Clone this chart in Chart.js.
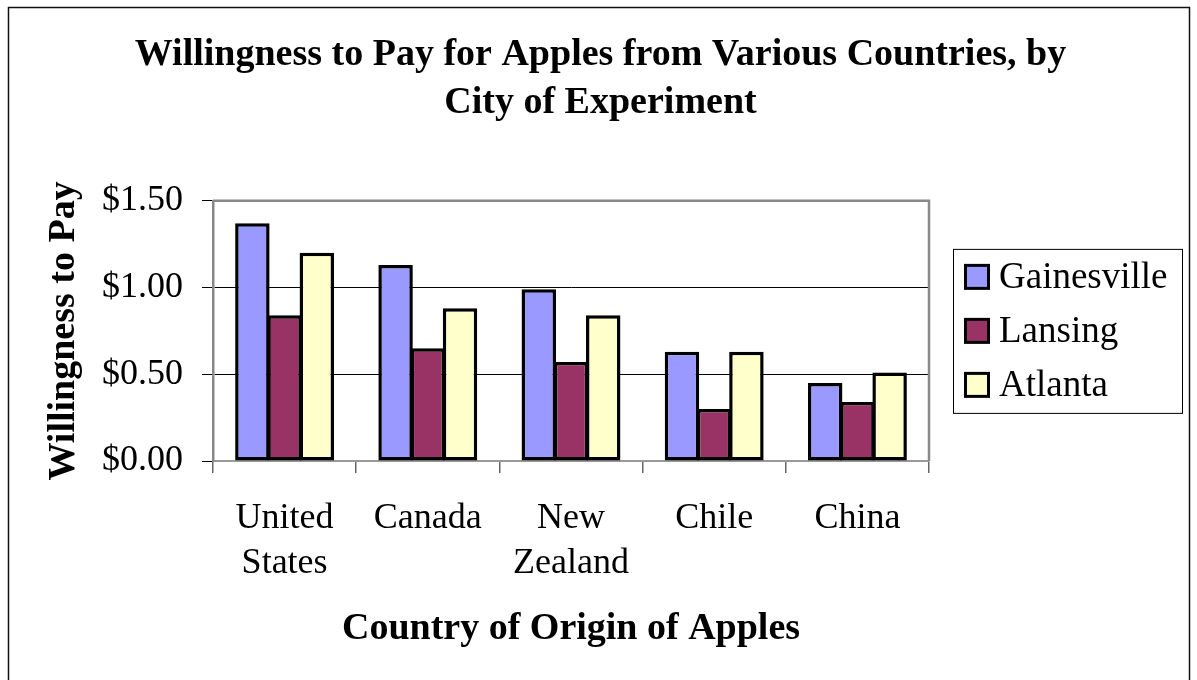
<!DOCTYPE html>
<html>
<head>
<meta charset="utf-8">
<script src="https://cdn.jsdelivr.net/npm/chart.js@4"></script>
<style>
  html, body { margin: 0; padding: 0; background: #fff; }
  #wrap { width: 1197px; height: 680px; }
</style>
</head>
<body>
<div id="wrap"><canvas id="wtp-chart"></canvas></div>
<script>
// Chart data
const countries = [['United', 'States'], 'Canada', ['New', 'Zealand'], 'Chile', 'China'];
const gainesville = [1.37, 1.13, 0.99, 0.63, 0.45];
const lansing = [0.84, 0.65, 0.57, 0.30, 0.34];
const atlanta = [1.20, 0.88, 0.84, 0.63, 0.51];
const yTicks = [0, 0.5, 1.0, 1.5];

const SERIF = "'Liberation Serif', 'Times New Roman', serif";

// White background, outer frame and grey plot border
const framePlugin = {
    id: 'frame',
    beforeDraw(chart) {
        const ctx = chart.ctx;
        ctx.save();
        ctx.fillStyle = '#fff';
        ctx.fillRect(0, 0, chart.width, chart.height);
        ctx.strokeStyle = '#111';
        ctx.lineWidth = 1.5;
        ctx.strokeRect(8.5, 7.5, 1181, 700);
        ctx.restore();
    },
    afterDatasetsDraw(chart) {
        const {ctx, chartArea: a} = chart;
        ctx.save();
        ctx.strokeStyle = '#888';
        ctx.lineWidth = 2.5;
        ctx.beginPath();
        ctx.moveTo(a.left, a.top);
        ctx.lineTo(a.right, a.top);
        ctx.lineTo(a.right, a.bottom);
        ctx.stroke();
        ctx.restore();
    }
};

// Boxed legend to the right of the plot, like the original
const boxLegendPlugin = {
    id: 'boxLegend',
    afterDraw(chart) {
        const {ctx, chartArea: a} = chart;
        const cy = (a.top + a.bottom) / 2;
        const lx = a.right + 24;
        const ly = cy - 82;
        ctx.save();
        ctx.strokeStyle = '#000';
        ctx.lineWidth = 1;
        ctx.strokeRect(lx + 0.5, ly + 0.5, 229, 164);
        ctx.font = '37px ' + SERIF;
        ctx.textBaseline = 'middle';
        chart.data.datasets.forEach((ds, i) => {
            const y = cy + (i - 1) * 54;
            ctx.fillStyle = ds.backgroundColor;
            ctx.fillRect(lx + 12, y - 12, 24, 24);
            ctx.lineWidth = 3;
            ctx.strokeStyle = '#000';
            ctx.strokeRect(lx + 12.5, y - 11.5, 23, 23);
            ctx.fillStyle = '#000';
            ctx.fillText(ds.label, lx + 46, y + 1);
        });
        ctx.restore();
    }
};

const barStyle = {
    borderColor: '#000',
    borderWidth: 3.5,
    borderSkipped: false,
    categoryPercentage: 0.675,
    barPercentage: 1.07
};

const ctx = document.getElementById('wtp-chart').getContext('2d');
new Chart(ctx, {
    type: 'bar',
    data: {
        labels: countries,
        datasets: [
            Object.assign({label: 'Gainesville', data: gainesville, backgroundColor: '#9999FF'}, barStyle),
            Object.assign({label: 'Lansing', data: lansing, backgroundColor: '#993366'}, barStyle),
            Object.assign({label: 'Atlanta', data: atlanta, backgroundColor: '#FFFFCC'}, barStyle)
        ]
    },
    options: {
        responsive: true,
        maintainAspectRatio: false,
        animation: false,
        layout: { padding: { left: 4, right: 0, top: 0, bottom: 0 } },
        plugins: {
            legend: { display: false },
            tooltip: { enabled: false },
            title: {
                display: true,
                text: ['Willingness to Pay for Apples from Various Countries, by', 'City of Experiment'],
                color: '#000',
                font: { family: SERIF, size: 38, weight: 'bold', lineHeight: 1.26 },
                padding: { top: 31, bottom: 74 }
            }
        },
        scales: {
            x: {
                grid: {
                    offset: true,
                    drawOnChartArea: false,
                    drawTicks: true,
                    tickLength: 12,
                    tickColor: '#666',
                    lineWidth: 1.5
                },
                border: { color: '#999', width: 2 },
                ticks: {
                    color: '#000',
                    font: { family: SERIF, size: 36, lineHeight: 1.25 },
                    padding: 23,
                    maxRotation: 0,
                    autoSkip: false
                },
                title: {
                    display: true,
                    text: 'Country of Origin of Apples',
                    color: '#000',
                    font: { family: SERIF, size: 38, weight: 'bold', lineHeight: 1.2 },
                    padding: { top: 0, bottom: 28 }
                },
                afterFit(scale) { scale.height = 680 - 461; }
            },
            y: {
                min: 0,
                max: 1.5,
                afterBuildTicks(scale) { scale.ticks = yTicks.map(v => ({value: v})); },
                grid: {
                    color: c => (c.tick && (c.tick.value === 0 || c.tick.value === 1.5)) ? 'rgba(0,0,0,0)' : '#000',
                    tickColor: '#000',
                    tickLength: 11,
                    lineWidth: 1
                },
                border: { color: '#888', width: 2.5 },
                ticks: {
                    color: '#000',
                    font: { family: SERIF, size: 36 },
                    padding: 19,
                    callback: v => '$' + Number(v).toFixed(2)
                },
                title: {
                    display: true,
                    text: 'Willingness to Pay',
                    color: '#000',
                    font: { family: SERIF, size: 38, weight: 'bold', lineHeight: 1.2 },
                    padding: { top: 37, bottom: 0 }
                },
                afterFit(scale) { scale.width = 213 - 4; }
            },
            // empty right-hand axis that only reserves room for the legend box
            legendSpace: {
                type: 'linear',
                position: 'right',
                display: true,
                grid: { display: false },
                border: { display: false },
                ticks: { display: false },
                afterFit(scale) { scale.width = 268; }
            }
        }
    },
    plugins: [framePlugin, boxLegendPlugin]
});
</script>
</body>
</html>
